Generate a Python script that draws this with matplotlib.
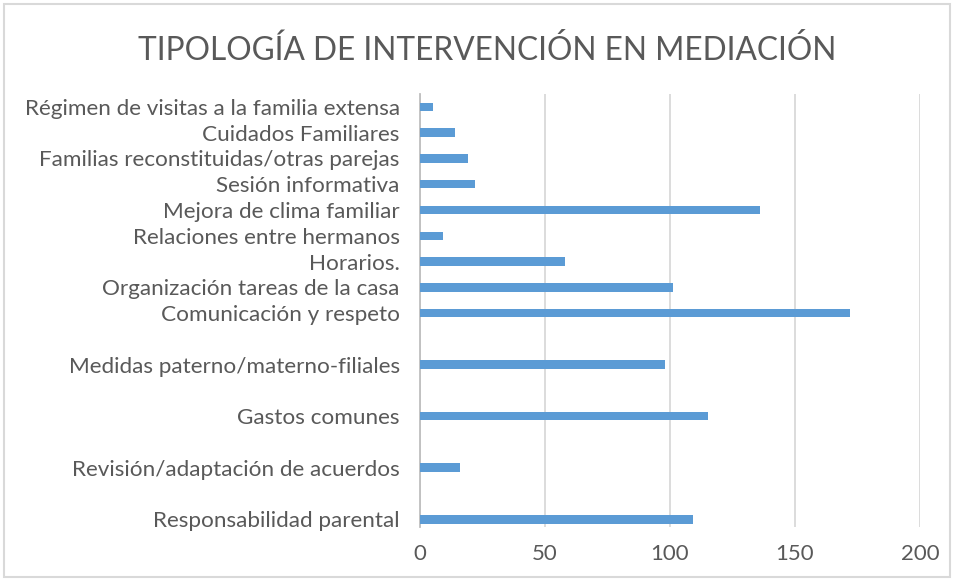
import matplotlib
matplotlib.use("Agg")
import matplotlib.pyplot as plt
from matplotlib.patches import Rectangle

title = "TIPOLOGÍA DE INTERVENCIÓN EN MEDIACIÓN"
categories = [
    "Responsabilidad parental", "",
    "Revisión/adaptación de acuerdos", "",
    "Gastos comunes", "",
    "Medidas paterno/materno-filiales", "",
    "Comunicación y respeto",
    "Organización tareas de la casa",
    "Horarios.",
    "Relaciones entre hermanos",
    "Mejora de clima familiar",
    "Sesión informativa",
    "Familias reconstituidas/otras parejas",
    "Cuidados Familiares",
    "Régimen de visitas a la familia extensa",
]
values = [109, 0, 16, 0, 115, 0, 98, 0, 172, 101, 58, 9, 136, 22, 19, 14, 5]
x_ticks = [0, 50, 100, 150, 200]

plt.rcParams['font.family'] = ['Lato', 'DejaVu Sans']
text_color = "#595959"
bar_color = "#5B9BD5"
grid_color = "#D9D9D9"

W, H = 955, 579
fig = plt.figure(figsize=(W / 100, H / 100), dpi=100)
ax = fig.add_axes([420 / W, 1 - 527 / H, 500 / W, (527 - 94) / H])

pos = list(range(len(categories)))
ax.barh(pos, values, height=0.33, color=bar_color, zorder=3)
ax.set_yticks(pos)
ax.set_yticklabels(categories, fontsize=16.2, color=text_color)
ax.set_ylim(-0.3, len(categories) - 0.5)
ax.set_xlim(0, 200)
ax.set_xticks(x_ticks)
ax.set_xticklabels([str(t) for t in x_ticks], fontsize=16, color=text_color)
ax.tick_params(axis='both', length=0)
ax.tick_params(axis='x', pad=12)
ax.tick_params(axis='y', pad=14.5)
ax.grid(axis='x', color=grid_color, linewidth=1.3, zorder=0)
for s in ['top', 'right', 'bottom']:
    ax.spines[s].set_visible(False)
ax.spines['left'].set_color("#BFBFBF")
ax.spines['left'].set_linewidth(1.3)

fig.text(487 / W, 1 - 50 / H, title, ha='center', va='center',
         fontsize=22.8, color=text_color)

fig.patches.append(Rectangle((4 / W, 2 / H), 946 / W, 1 - 6 / H,
                             transform=fig.transFigure, fill=False,
                             edgecolor="#D9D9D9", linewidth=1.5))

fig.savefig("out.png", dpi=100, facecolor="white")
